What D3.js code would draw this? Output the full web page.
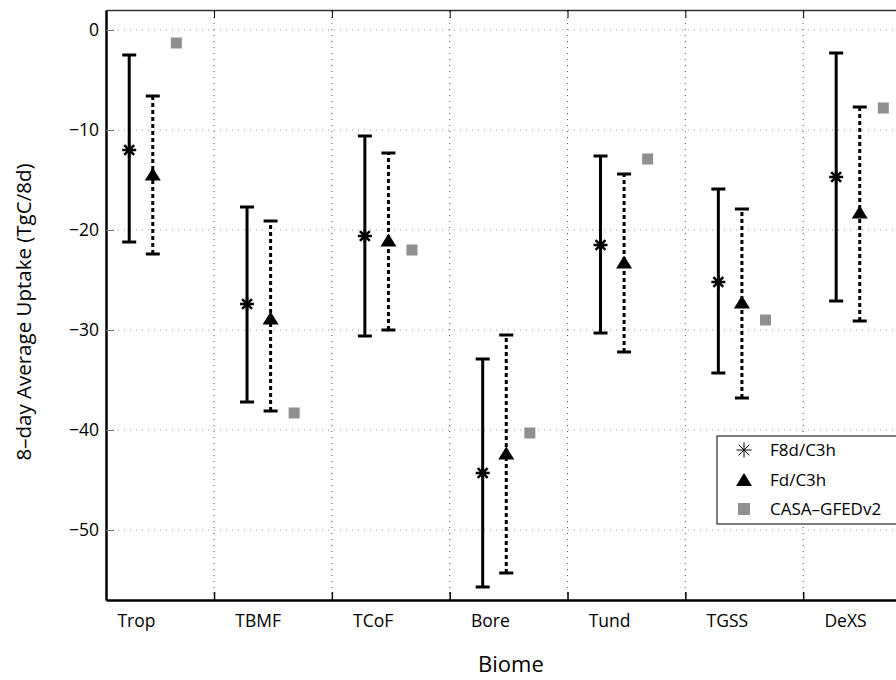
<!DOCTYPE html>
<html>
<head>
<meta charset="utf-8">
<script src="https://cdn.jsdelivr.net/npm/d3@7"></script>
<style>
  body { margin: 0; background: #fff; }
  svg { display: block; font-family: "Open Sans", sans-serif; }
</style>
</head>
<body>
<svg id="chart" width="896" height="680"></svg>
<script>
const biomes = ["Trop", "TBMF", "TCoF", "Bore", "Tund", "TGSS", "DeXS"];
// F8d/C3h: mean and error bar ends
const f8dMean = [-12.0, -27.4, -20.6, -44.3, -21.5, -25.2, -14.7];
const f8dHigh = [-2.5, -17.7, -10.6, -32.9, -12.6, -15.9, -2.3];
const f8dLow = [-21.2, -37.2, -30.6, -55.7, -30.3, -34.3, -27.1];
// Fd/C3h
const fdMean = [-14.4, -28.8, -21.0, -42.3, -23.2, -27.2, -18.2];
const fdHigh = [-6.6, -19.1, -12.3, -30.5, -14.4, -17.9, -7.7];
const fdLow = [-22.4, -38.1, -30.0, -54.3, -32.2, -36.8, -29.1];
// CASA-GFEDv2
const casa = [-1.3, -38.3, -22.0, -40.3, -12.9, -29.0, -7.8];

const yTicks = [0, -10, -20, -30, -40, -50];
const xGrid = [1.5, 2.5, 3.5, 4.5, 5.5, 6.5, 7.5];
const legendLabels = ["F8d/C3h", "Fd/C3h", "CASA\u2013GFEDv2"];

const svg = d3.select("#chart");
const margin = { left: 106, top: 10, right: -25, bottom: 80 };
const width = +svg.attr("width"),
  height = +svg.attr("height");

const x = d3.scaleLinear()
  .domain([0.583, 7.5])
  .range([margin.left, width - margin.right]);
const y = d3.scaleLinear()
  .domain([-57, 2])
  .range([height - margin.bottom, margin.top]);

// grid
svg.append("g")
  .selectAll("line")
  .data(yTicks)
  .join("line")
  .attr("x1", x.range()[0]).attr("x2", x.range()[1])
  .attr("y1", (d) => y(d)).attr("y2", (d) => y(d))
  .attr("stroke", "#999").attr("stroke-dasharray", "1,5");
svg.append("g")
  .selectAll("line")
  .data(xGrid)
  .join("line")
  .attr("x1", (d) => x(d)).attr("x2", (d) => x(d))
  .attr("y1", y.range()[0]).attr("y2", y.range()[1])
  .attr("stroke", "#555").attr("stroke-dasharray", "1,5");

// axes
const bottomAxis = svg.append("g")
  .attr("transform", `translate(0,${y.range()[0]})`)
  .call(d3.axisBottom(x).tickValues(xGrid).tickSize(-8).tickSizeOuter(0).tickFormat(""));
bottomAxis.select(".domain").attr("stroke-width", 2.5);
bottomAxis.selectAll(".tick line").attr("stroke-width", 1.5);

const topAxis = svg.append("g")
  .attr("transform", `translate(0,${y.range()[1]})`)
  .call(d3.axisTop(x).tickValues(xGrid).tickSize(-8).tickSizeOuter(0).tickFormat(""));
topAxis.select(".domain").attr("stroke", "#333").attr("stroke-width", 1.5);

const leftAxis = svg.append("g")
  .attr("transform", `translate(${x.range()[0]},0)`)
  .call(d3.axisLeft(y).tickValues(yTicks).tickSize(-8).tickSizeOuter(0).tickPadding(7));
leftAxis.select(".domain").attr("stroke-width", 2.5);
leftAxis.selectAll(".tick line").attr("stroke", "#777");
leftAxis.selectAll(".tick text")
  .attr("font-size", 17.5).attr("font-family", "Open Sans").attr("fill", "#000");

// category labels
svg.append("g")
  .selectAll("text")
  .data(biomes)
  .join("text")
  .attr("x", (d, i) => x(i + 1 - 0.32))
  .attr("y", 627)
  .attr("font-size", 17.5)
  .text((d) => d);

// axis titles
svg.append("text")
  .attr("x", x(4.02)).attr("y", 672)
  .attr("text-anchor", "middle").attr("font-size", 22)
  .text("Biome");
svg.append("text")
  .attr("transform", "translate(31,312) rotate(-90)")
  .attr("text-anchor", "middle").attr("font-size", 20.5)
  .text("8\u2013day Average Uptake (TgC/8d)");

// marker types
const asterisk = {
  draw(ctx, size) {
    const r = Math.sqrt(size) / 2, d = r * 0.7071;
    ctx.moveTo(-r, 0); ctx.lineTo(r, 0);
    ctx.moveTo(0, -r); ctx.lineTo(0, r);
    ctx.moveTo(-d, -d); ctx.lineTo(d, d);
    ctx.moveTo(-d, d); ctx.lineTo(d, -d);
  },
};
const triangle = {
  draw(ctx, size) {
    const w = Math.sqrt(size) / 2, h = w * 0.8;
    ctx.moveTo(0, -h); ctx.lineTo(w, h); ctx.lineTo(-w, h); ctx.closePath();
  },
};
const square = {
  draw(ctx, size) {
    const s = Math.sqrt(size) / 2;
    ctx.rect(-s, -s, 2 * s, 2 * s);
  },
};

// error bars
function errorBars(lo, hi, offset, dash) {
  const g = svg.append("g")
    .attr("stroke", "#000").attr("stroke-width", 3).attr("fill", "none");
  g.selectAll(".bar")
    .data(biomes)
    .join("line")
    .attr("x1", (d, i) => x(i + 1 + offset)).attr("x2", (d, i) => x(i + 1 + offset))
    .attr("y1", (d, i) => y(lo[i])).attr("y2", (d, i) => y(hi[i]))
    .attr("stroke-dasharray", dash);
  [lo, hi].forEach((arr) => {
    g.selectAll(null)
      .data(biomes)
      .join("line")
      .attr("x1", (d, i) => x(i + 1 + offset) - 7).attr("x2", (d, i) => x(i + 1 + offset) + 7)
      .attr("y1", (d, i) => y(arr[i])).attr("y2", (d, i) => y(arr[i]));
  });
}
errorBars(f8dLow, f8dHigh, -0.22, null);
errorBars(fdLow, fdHigh, -0.02, "4,3");

svg.append("g")
  .selectAll("path")
  .data(f8dMean)
  .join("path")
  .attr("transform", (d, i) => `translate(${x(i + 1 - 0.22)},${y(d)})`)
  .attr("d", d3.symbol().type(asterisk).size(14 * 14))
  .attr("stroke", "#000").attr("stroke-width", 2.5).attr("fill", "none");

svg.append("g")
  .selectAll("path")
  .data(fdMean)
  .join("path")
  .attr("transform", (d, i) => `translate(${x(i + 1 - 0.02)},${y(d)})`)
  .attr("d", d3.symbol().type(triangle).size(16 * 16))
  .attr("fill", "#000");

svg.append("g")
  .selectAll("path")
  .data(casa)
  .join("path")
  .attr("transform", (d, i) => `translate(${x(i + 1 + 0.18)},${y(d)})`)
  .attr("d", d3.symbol().type(square).size(11 * 11))
  .attr("fill", "#8f8f8f");

// legend
const legend = svg.append("g").attr("transform", "translate(717,436)");
legend.append("rect")
  .attr("width", 200).attr("height", 88)
  .attr("fill", "#fff").attr("stroke", "#000").attr("stroke-width", 1);
const legendSymbols = [
  { type: asterisk, size: 15 * 15, fill: "none", stroke: "#000" },
  { type: triangle, size: 16 * 16, fill: "#000", stroke: "none" },
  { type: square, size: 12 * 12, fill: "#8f8f8f", stroke: "none" },
];
const item = legend.selectAll(".item")
  .data(legendLabels)
  .join("g")
  .attr("transform", (d, i) => `translate(0,${14 + i * 29.5})`);
item.append("path")
  .attr("transform", "translate(27,0)")
  .attr("d", (d, i) => d3.symbol().type(legendSymbols[i].type).size(legendSymbols[i].size)())
  .attr("fill", (d, i) => legendSymbols[i].fill)
  .attr("stroke", (d, i) => legendSymbols[i].stroke)
  .attr("stroke-width", 1);
item.append("text")
  .attr("x", 53).attr("y", 6)
  .attr("font-size", 17)
  .text((d) => d);
</script>
</body>
</html>
